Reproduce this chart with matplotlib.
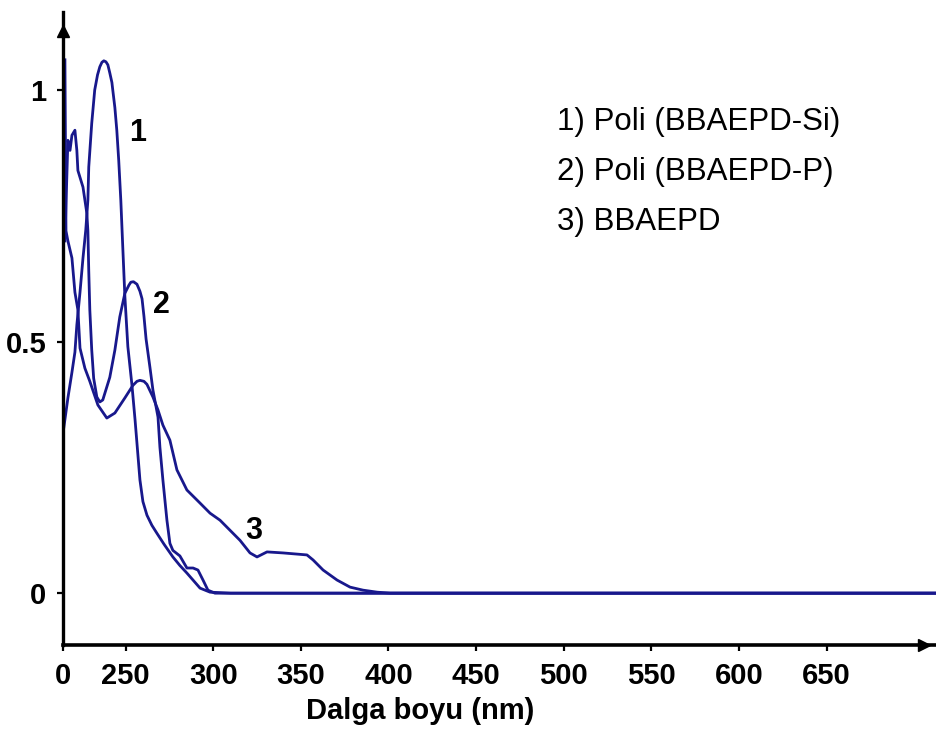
import numpy as np
import matplotlib
matplotlib.use("Agg")
import matplotlib.pyplot as plt

# absorbance spectra (wavelength in nm, normalised absorbance)
wl_si = [214.8, 217.1, 219.4, 221.1, 222.2, 224.0, 225.7, 227.3, 228.5, 229.0,
         230.7, 232.4, 234.0, 235.3, 236.5, 237.6, 238.8, 239.9, 241.0, 242.2,
         242.7, 243.9, 245.0, 246.1, 247.3, 248.5, 249.6, 251.3, 253.6, 255.4,
         256.5, 258.2, 259.9, 262.2, 265.0, 267.9, 272.0, 277.0, 281.0, 285.0,
         289.0, 292.5, 298.2, 310.0, 713.0]
abs_si = [0.330, 0.388, 0.439, 0.479, 0.533, 0.598, 0.666, 0.722, 0.781, 0.847,
          0.934, 1.000, 1.030, 1.046, 1.055, 1.058, 1.056, 1.050, 1.034, 1.015,
          1.000, 0.965, 0.920, 0.860, 0.780, 0.680, 0.590, 0.490, 0.415, 0.345,
          0.298, 0.225, 0.182, 0.155, 0.135, 0.119, 0.097, 0.072, 0.055, 0.040,
          0.024, 0.010, 0.002, 0.0, 0.0]

wl_p = [215.4, 217.1, 218.3, 219.4, 221.1, 222.2, 222.8, 225.7, 227.9, 228.5,
        229.0, 229.6, 230.7, 231.8, 233.6, 235.3, 237.0, 241.0, 243.9, 246.7,
        249.6, 251.9, 253.0, 254.5, 256.5, 258.2, 259.4, 260.5, 261.7, 263.9,
        265.6, 268.5, 269.6, 271.3, 273.6, 275.3, 277.0, 281.0, 285.0, 288.5,
        291.3, 294.2, 297.0, 301.0, 713.0]
abs_p = [0.700, 0.900, 0.880, 0.910, 0.920, 0.880, 0.840, 0.807, 0.755, 0.720,
         0.640, 0.563, 0.483, 0.427, 0.390, 0.380, 0.384, 0.429, 0.483, 0.549,
         0.596, 0.612, 0.618, 0.619, 0.614, 0.600, 0.585, 0.550, 0.505, 0.449,
         0.404, 0.350, 0.290, 0.225, 0.145, 0.099, 0.085, 0.074, 0.050, 0.050,
         0.046, 0.026, 0.006, 0.0, 0.0]

wl_m = [215.4, 216.0, 217.1, 219.4, 221.1, 222.8, 224.0, 226.8, 229.6, 234.2,
        239.3, 243.9, 249.6, 254.2, 256.5, 258.2, 260.5, 262.2, 265.6, 268.5,
        271.3, 275.3, 279.3, 285.0, 292.5, 298.2, 303.9, 309.6, 315.3, 321.0,
        325.0, 330.7, 339.8, 353.5, 357.0, 362.7, 370.7, 378.1, 385.5, 393.5,
        401.0, 713.0]
abs_m = [1.060, 0.720, 0.700, 0.666, 0.598, 0.563, 0.487, 0.447, 0.421, 0.374,
         0.348, 0.358, 0.388, 0.413, 0.421, 0.423, 0.421, 0.415, 0.390, 0.364,
         0.334, 0.304, 0.245, 0.205, 0.179, 0.159, 0.145, 0.125, 0.105, 0.080,
         0.072, 0.082, 0.080, 0.076, 0.066, 0.046, 0.026, 0.012, 0.006, 0.002,
         0.0, 0.0]

curve_tags = ["1", "2", "3"]
tag_pos = [(257.0, 0.915), (270.2, 0.573), (323.3, 0.123)]
legend_lines = ["1) Poli (BBAEPD-Si)", "2) Poli (BBAEPD-P)", "3) BBAEPD"]

x_lo, x_hi = 214.3, 713.0
xticks = [x_lo, 250, 300, 350, 400, 450, 500, 550, 600, 650]
xtick_labels = ["0", "250", "300", "350", "400", "450", "500", "550", "600", "650"]
yticks = [0, 0.5, 1]
ytick_labels = ["0", "0.5", "1"]

plt.rcParams["font.family"] = ["Liberation Sans", "DejaVu Sans"]
line_col = "#18188c"

fig = plt.figure(figsize=(9.37, 7.31), dpi=100)
ax = fig.add_axes([63 / 937, 86 / 731, 874 / 937, 633 / 731])

for wl, a in zip([wl_si, wl_p, wl_m], [abs_si, abs_p, abs_m]):
    ax.plot(wl, a, color=line_col, lw=2.0, solid_joinstyle="round")

for tag, (tx, ty) in zip(curve_tags, tag_pos):
    ax.text(tx, ty, tag, fontsize=22, fontweight="bold", ha="center", va="center")

ax.set_xlim(x_lo, x_hi)
ax.set_ylim(-0.103, 1.155)

ax.spines["top"].set_visible(False)
ax.spines["right"].set_visible(False)
ax.spines["left"].set_linewidth(2.4)
ax.spines["bottom"].set_linewidth(2.6)

# arrow heads at the axis ends
ax.plot([0], [0.97], marker="^", ms=9, color="black", transform=ax.transAxes, clip_on=False)
ax.plot([0.985], [0], marker=">", ms=9, color="black", transform=ax.transAxes, clip_on=False)

ax.set_xticks(xticks)
ax.set_xticklabels(xtick_labels)
ax.set_yticks(yticks)
ax.set_yticklabels(ytick_labels)
ax.tick_params(axis="both", direction="out", length=4, width=1.6, labelsize=21, pad=8)
for label in ax.get_xticklabels() + ax.get_yticklabels():
    label.set_fontweight("bold")

ax.set_xlabel("Dalga boyu (nm)", fontsize=21, fontweight="bold")
ax.xaxis.set_label_coords(0.4085, -0.104)
ax.xaxis.label.set_va("center")

for i, txt in enumerate(legend_lines):
    fig.text(557 / 937, 1 - (122 + 50 * i) / 731, txt, fontsize=22.5, ha="left", va="center")

plt.savefig("out.png", dpi=100)
